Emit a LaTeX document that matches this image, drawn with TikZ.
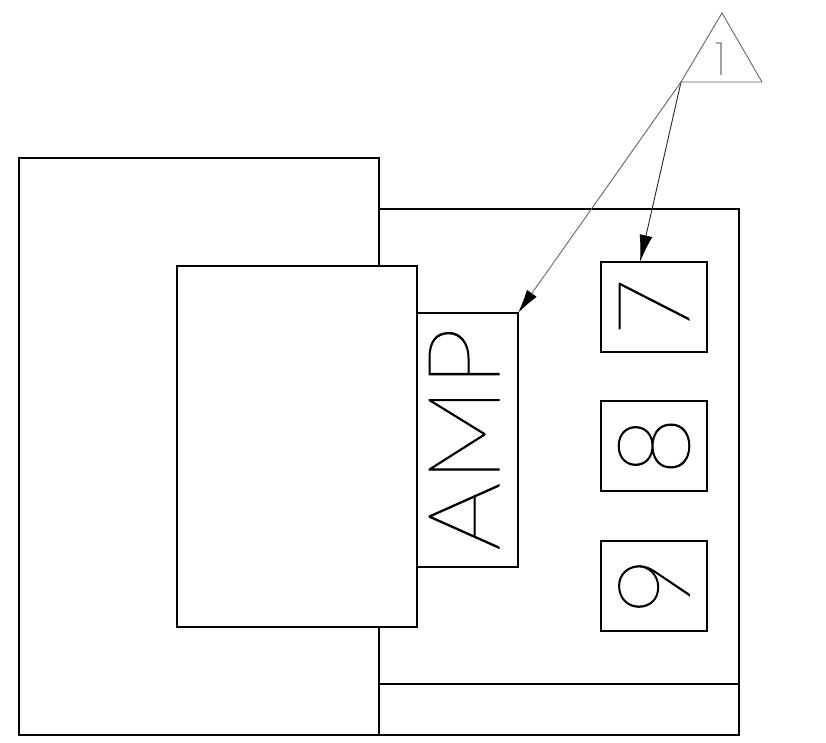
\documentclass[tikz,border=0pt]{standalone}
\usepackage{fontspec}
\setmainfont{Liberation Sans}
\newfontfamily\thinfont{Lato}[UprightFont=* Thin,UprightFeatures={FakeBold=1}]
\newfontfamily\onefont{Poppins}[UprightFont=* Thin]
\usetikzlibrary{arrows.meta,calc}
\tikzset{
  thick box/.style={draw=black,line width=2.6pt,rectangle,inner sep=0pt,outer sep=0pt},
  leader/.style={draw=black!85,line width=0.9pt,-{Latex[length=27pt,width=13pt,black]}},
  leader light/.style={draw=black!60,line width=0.9pt,-{Latex[length=24pt,width=12pt,black]}},
  thin part/.style={draw=black!60,line width=0.9pt,line join=miter},
  vert label/.style={rotate=90,inner sep=0pt,outer sep=0pt,text=black},
  big label/.style={vert label,font=\thinfont\fontsize{100}{100}\selectfont},
}
\begin{document}
\begin{tikzpicture}[x=1pt,y=-1pt]
\useasboundingbox (0,0) rectangle (826,743);
\node[thick box,minimum width=360pt,minimum height=577pt] (outer) at (199,446.5) {};
\node[thick box,minimum width=360pt,minimum height=526pt] (panel) at (559,472) {};
\node[thick box,fill=white,minimum width=240pt,minimum height=361pt] (inner) at (297,446.5) {};
\node[thick box,minimum width=101pt,minimum height=254pt] (amp) at (467.5,440) {};
\node[thick box,minimum width=106pt,minimum height=90pt] (boxa) at (654,307) {};
\node[thick box,minimum width=106pt,minimum height=90pt] (boxb) at (654,446) {};
\node[thick box,minimum width=106pt,minimum height=90pt] (boxc) at (654,586) {};
\coordinate (stripl) at (379,684);
\coordinate (stripr) at (739,684);
\draw[line width=2.6pt] (stripl) -- (stripr);
\node[big label,xscale=1.07] (amptext) at (464,439) {AMP};
\node[big label] (seven) at (654,307) {7};
\node[big label] (eight) at (654,446) {8};
\node[big label] (nine) at (654,586) {9};
\coordinate (apex) at (722,13);
\coordinate (corner) at (681,82);
\coordinate (right) at (762,82);
\coordinate (tipa) at (640,262);
\draw[thin part] (corner) -- (apex) -- (right) -- cycle;
\node[inner sep=0pt,text=black!80,font=\onefont\fontsize{46}{46}\selectfont] (one) at (721,59) {1};
\draw[leader] (corner) -- (tipa);
\draw[leader light] (corner) -- (amp.north east);
\end{tikzpicture}
\end{document}
